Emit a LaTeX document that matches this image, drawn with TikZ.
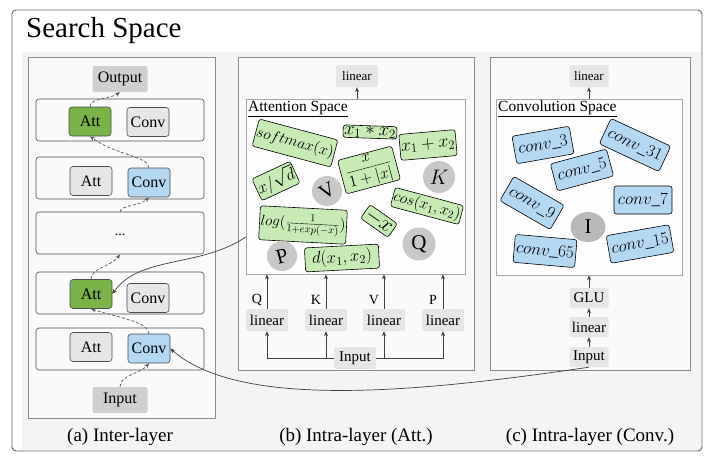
\RequirePackage{fix-cm}
\documentclass[tikz,border=0pt]{standalone}
\usepackage{fontspec}
\setmainfont{Liberation Serif}
\usetikzlibrary{arrows.meta,shapes.geometric}
\newcommand\myfs[1]{\fontsize{#1}{#1}\selectfont}
\definecolor{attgreen}{RGB}{122,180,72}
\definecolor{convblue}{RGB}{180,215,242}
\definecolor{opgreen}{RGB}{200,234,180}
\definecolor{boxgray}{RGB}{208,208,208}
\definecolor{lightgray2}{RGB}{230,230,230}
\definecolor{circgray}{RGB}{200,200,200}
\definecolor{igray}{RGB}{185,185,185}
\definecolor{bggray}{RGB}{244,244,244}
\definecolor{panelfill}{RGB}{250,250,250}
\begin{document}
\begin{tikzpicture}[x=1pt,y=-1pt,
  io/.style={fill=boxgray, rounded corners=2pt, minimum width=55pt, minimum height=26pt, font=\myfs{16}, inner sep=0pt},
  cell/.style={draw=black!70, rounded corners=3pt, minimum width=42pt, minimum height=29pt, font=\myfs{16}, inner sep=0pt, line width=0.6pt},
  attg/.style={cell, fill=attgreen},
  convb/.style={cell, fill=convblue},
  graycell/.style={cell, fill=lightgray2},
  layerbox/.style={draw=black!70, fill=panelfill, rounded corners=3pt, line width=0.6pt, minimum width=168pt, minimum height=42pt, inner sep=0pt},
  panel/.style={draw=black!45, fill=panelfill, line width=0.6pt, inner sep=0pt},
  space/.style={draw=black!35, fill=white!60!panelfill, line width=0.6pt, inner sep=0pt},
  small/.style={fill=lightgray2, rounded corners=2pt, minimum width=42pt, minimum height=22pt, font=\myfs{15}, inner sep=0pt},
  op/.style={draw=black, fill=opgreen, rounded corners=2.5pt, font=\myfs{16}, inner xsep=3pt, inner ysep=3pt, line width=0.6pt},
  cop/.style={op, fill=convblue, font=\myfs{17}, inner xsep=4pt, inner ysep=4pt, minimum height=28pt},
  circ/.style={circle, fill=circgray, minimum size=30pt, inner sep=0pt, font=\myfs{21}},
  dasharrow/.style={draw=black!65, dash pattern=on 3pt off 2pt, line width=0.7pt, -{Stealth[length=5pt,width=4pt,fill=black!75]}},
  solidarrow/.style={draw=black!75, line width=0.7pt, -{Stealth[length=5pt,width=4pt]}},
  caption/.style={font=\myfs{19}, inner sep=0pt}
]
\useasboundingbox (0,0) rectangle (710,463);
\fill[white] (0,0) rectangle (710,463);
% outer frame and background
\fill[white, rounded corners=4pt] (12,10) rectangle (702,451);
\fill[bggray] (22,52) rectangle (701,450);
\draw[black!60, line width=0.9pt, rounded corners=4pt] (12,10) rectangle (702,451);
\node[anchor=west, font=\myfs{29}, inner sep=0pt] (title) at (26,31) {Search Space};

% panels
\node[panel, minimum width=187pt, minimum height=361pt] (pa) at (121.5,237.5) {};
\node[panel, minimum width=236pt, minimum height=313pt] (pb) at (356,213.5) {};
\node[panel, minimum width=200pt, minimum height=313pt] (pc) at (590,213.5) {};

\node[caption] (la) at (120,437) {(a) Inter-layer};
\node[caption] (lb) at (356,437) {(b) Intra-layer (Att.)};
\node[caption] (lc) at (590,437) {(c) Intra-layer (Conv.)};

% ---------- (a) inter-layer ----------
\node[io] (out) at (120,79) {Output};
\node[layerbox] (L1) at (120,120) {};
\node[layerbox] (L2) at (120,178) {};
\node[layerbox] (L3) at (120,233) {};
\node[layerbox] (L4) at (120,293) {};
\node[layerbox] (L5) at (120,349) {};
\node[io] (inp) at (120,400) {Input};

\node[attg] (a1) at (90,121.5) {Att};
\node[graycell] (c1) at (148,122) {Conv};
\node[graycell] (a2) at (91,181) {Att};
\node[convb] (c2) at (149,182.5) {Conv};
\node[font=\myfs{14}, inner sep=0pt] (dots) at (120,235) {...};
\node[attg] (a4) at (91,294) {Att};
\node[graycell] (c4) at (148,298) {Conv};
\node[graycell] (a5) at (91,347) {Att};
\node[convb] (c5) at (149,348.5) {Conv};

\draw[dasharrow] (inp.north) .. controls (120,375) and (140,374) .. (c5.south);
\draw[dasharrow] (c5.north) .. controls (148,322) and (120,318) .. (a4.south);
\draw[dasharrow] (a4.north) .. controls (91,268) and (112,266) .. (L3.south);
\draw[dasharrow] (L3.north) .. controls (121,205) and (140,206) .. (c2.south);
\draw[dasharrow] (c2.north) .. controls (148,156) and (115,155) .. (a1.south);
\draw[dasharrow] (a1.north) .. controls (90,98) and (110,99) .. (out.south);

% ---------- (b) intra-layer attention ----------
\node[small, font=\myfs{13}] (linb) at (357,76) {linear};
\node[space, minimum width=219pt, minimum height=175pt] (AS) at (355.5,186.5) {};
\node[anchor=north west, inner sep=0pt, font=\myfs{15.5}] (AStitle) at (248,101) {\underline{Attention Space}};
\draw[solidarrow] (AS.north -| linb) -- (linb.south);

\node[op, rotate=-15, font=\myfs{15.5}, inner xsep=1pt, minimum height=28pt] (sm) at (295,143) {$softmax(x)$};
\node[op, rotate=-2, font=\myfs{18.5}, inner ysep=0.5pt, inner xsep=1pt] (mul) at (370,132) {$x_1 * x_2$};
\node[op, rotate=5, font=\myfs{18}, minimum height=26pt, inner xsep=1pt] (add) at (428,145) {$x_1 + x_2$};
\node[op, rotate=25, font=\myfs{17}, inner xsep=1pt, inner ysep=2pt] (sq) at (276,181) {$x/\sqrt{d}$};
\node[op, rotate=15, font=\myfs{16}, minimum width=56pt, inner ysep=1pt] (fr) at (369,170) {$\displaystyle\frac{x}{1+|x|}$};
\node[circ, rotate=30] (V) at (327,191) {V};
\node[circ, minimum size=32pt] (K) at (439,177) {$K$};
\node[op, rotate=-15, font=\myfs{15.5}, inner xsep=1pt, inner ysep=2pt] (cs) at (427,206) {$cos(x_1,x_2)$};
\node[op, rotate=-3, font=\myfs{15}, inner xsep=1pt, minimum height=34pt] (lg) at (303,225) {$log(\frac{1}{1+exp(-x)})$};
\node[op, rotate=-35, font=\myfs{22}, inner ysep=1pt, inner xsep=2pt] (nx) at (379,221) {$-x$};
\node[circ, minimum size=33pt] (Q) at (419,244) {Q};
\node[circ, rotate=15] (P) at (282,256) {P};
\node[op, rotate=3, font=\myfs{17}, minimum width=74pt, minimum height=24pt] (dd) at (342,258) {$d(x_1,x_2)$};

\node[small] (q1) at (267,320) {linear};
\node[small] (q2) at (326,320) {linear};
\node[small] (q3) at (384,320) {linear};
\node[small] (q4) at (443,320) {linear};
\node[small] (inb) at (355,358) {Input};
\node[font=\myfs{14}, inner sep=0pt] (lq) at (257,300) {Q};
\node[font=\myfs{14}, inner sep=0pt] (lk) at (316,300) {K};
\node[font=\myfs{14}, inner sep=0pt] (lv) at (374,300) {V};
\node[font=\myfs{14}, inner sep=0pt] (lp) at (433,300) {P};
\foreach \q in {q1,q2,q3,q4}{
  \draw[solidarrow] (\q.north) -- (\q.north |- AS.south);
}
\draw[solidarrow] (inb.west) -| (q1.south);
\draw[solidarrow] (inb.east) -| (q4.south);
\draw[solidarrow] (q2 |- inb) -- (q2.south);
\draw[solidarrow] (q3 |- inb) -- (q3.south);

% ---------- (c) intra-layer convolution ----------
\node[small, font=\myfs{13}, minimum width=39pt] (linc) at (589,76) {linear};
\node[space, minimum width=186pt, minimum height=176pt] (CS) at (589,187) {};
\node[anchor=north west, inner sep=0pt, font=\myfs{15.5}] (CStitle) at (498,101) {\underline{Convolution Space}};
\draw[solidarrow] (CS.north -| linc) -- (linc.south);

\node[cop, rotate=10] (k3) at (543,145) {$conv\_3$};
\node[cop, rotate=-25] (k31) at (635,145) {$conv\_31$};
\node[cop, rotate=15] (k5) at (582,170) {$conv\_5$};
\node[cop, rotate=-30] (k9) at (532,203) {$conv\_9$};
\node[cop] (k7) at (643,200) {$conv\_7$};
\node[ellipse, fill=igray, minimum width=35pt, minimum height=30pt, inner sep=0pt, font=\myfs{21}] (I) at (588,227) {I};
\node[cop, rotate=-5, inner xsep=2pt] (k65) at (545,251) {$conv\_65$};
\node[cop, rotate=10, inner xsep=3pt] (k15) at (640,244) {$conv\_15$};

\node[small, minimum width=39pt, minimum height=20pt] (glu) at (589,298) {GLU};
\node[small, minimum width=39pt, minimum height=20pt] (linc2) at (589,327) {linear};
\node[small, minimum width=39pt, minimum height=20pt] (inc) at (589,357) {Input};
\draw[solidarrow] (inc.north) -- (linc2.south);
\draw[solidarrow] (linc2.north) -- (glu.south);
\draw[solidarrow] (glu.north) -- (CS.south -| glu);

% ---------- cross connectors ----------
\draw[solidarrow] (AS.west |- 0,237) .. controls (200,268) and (140,255) .. (a4.east);
\draw[solidarrow] (inc.south) .. controls (420,392) and (240,410) .. (c5.east);
\end{tikzpicture}
\end{document}
